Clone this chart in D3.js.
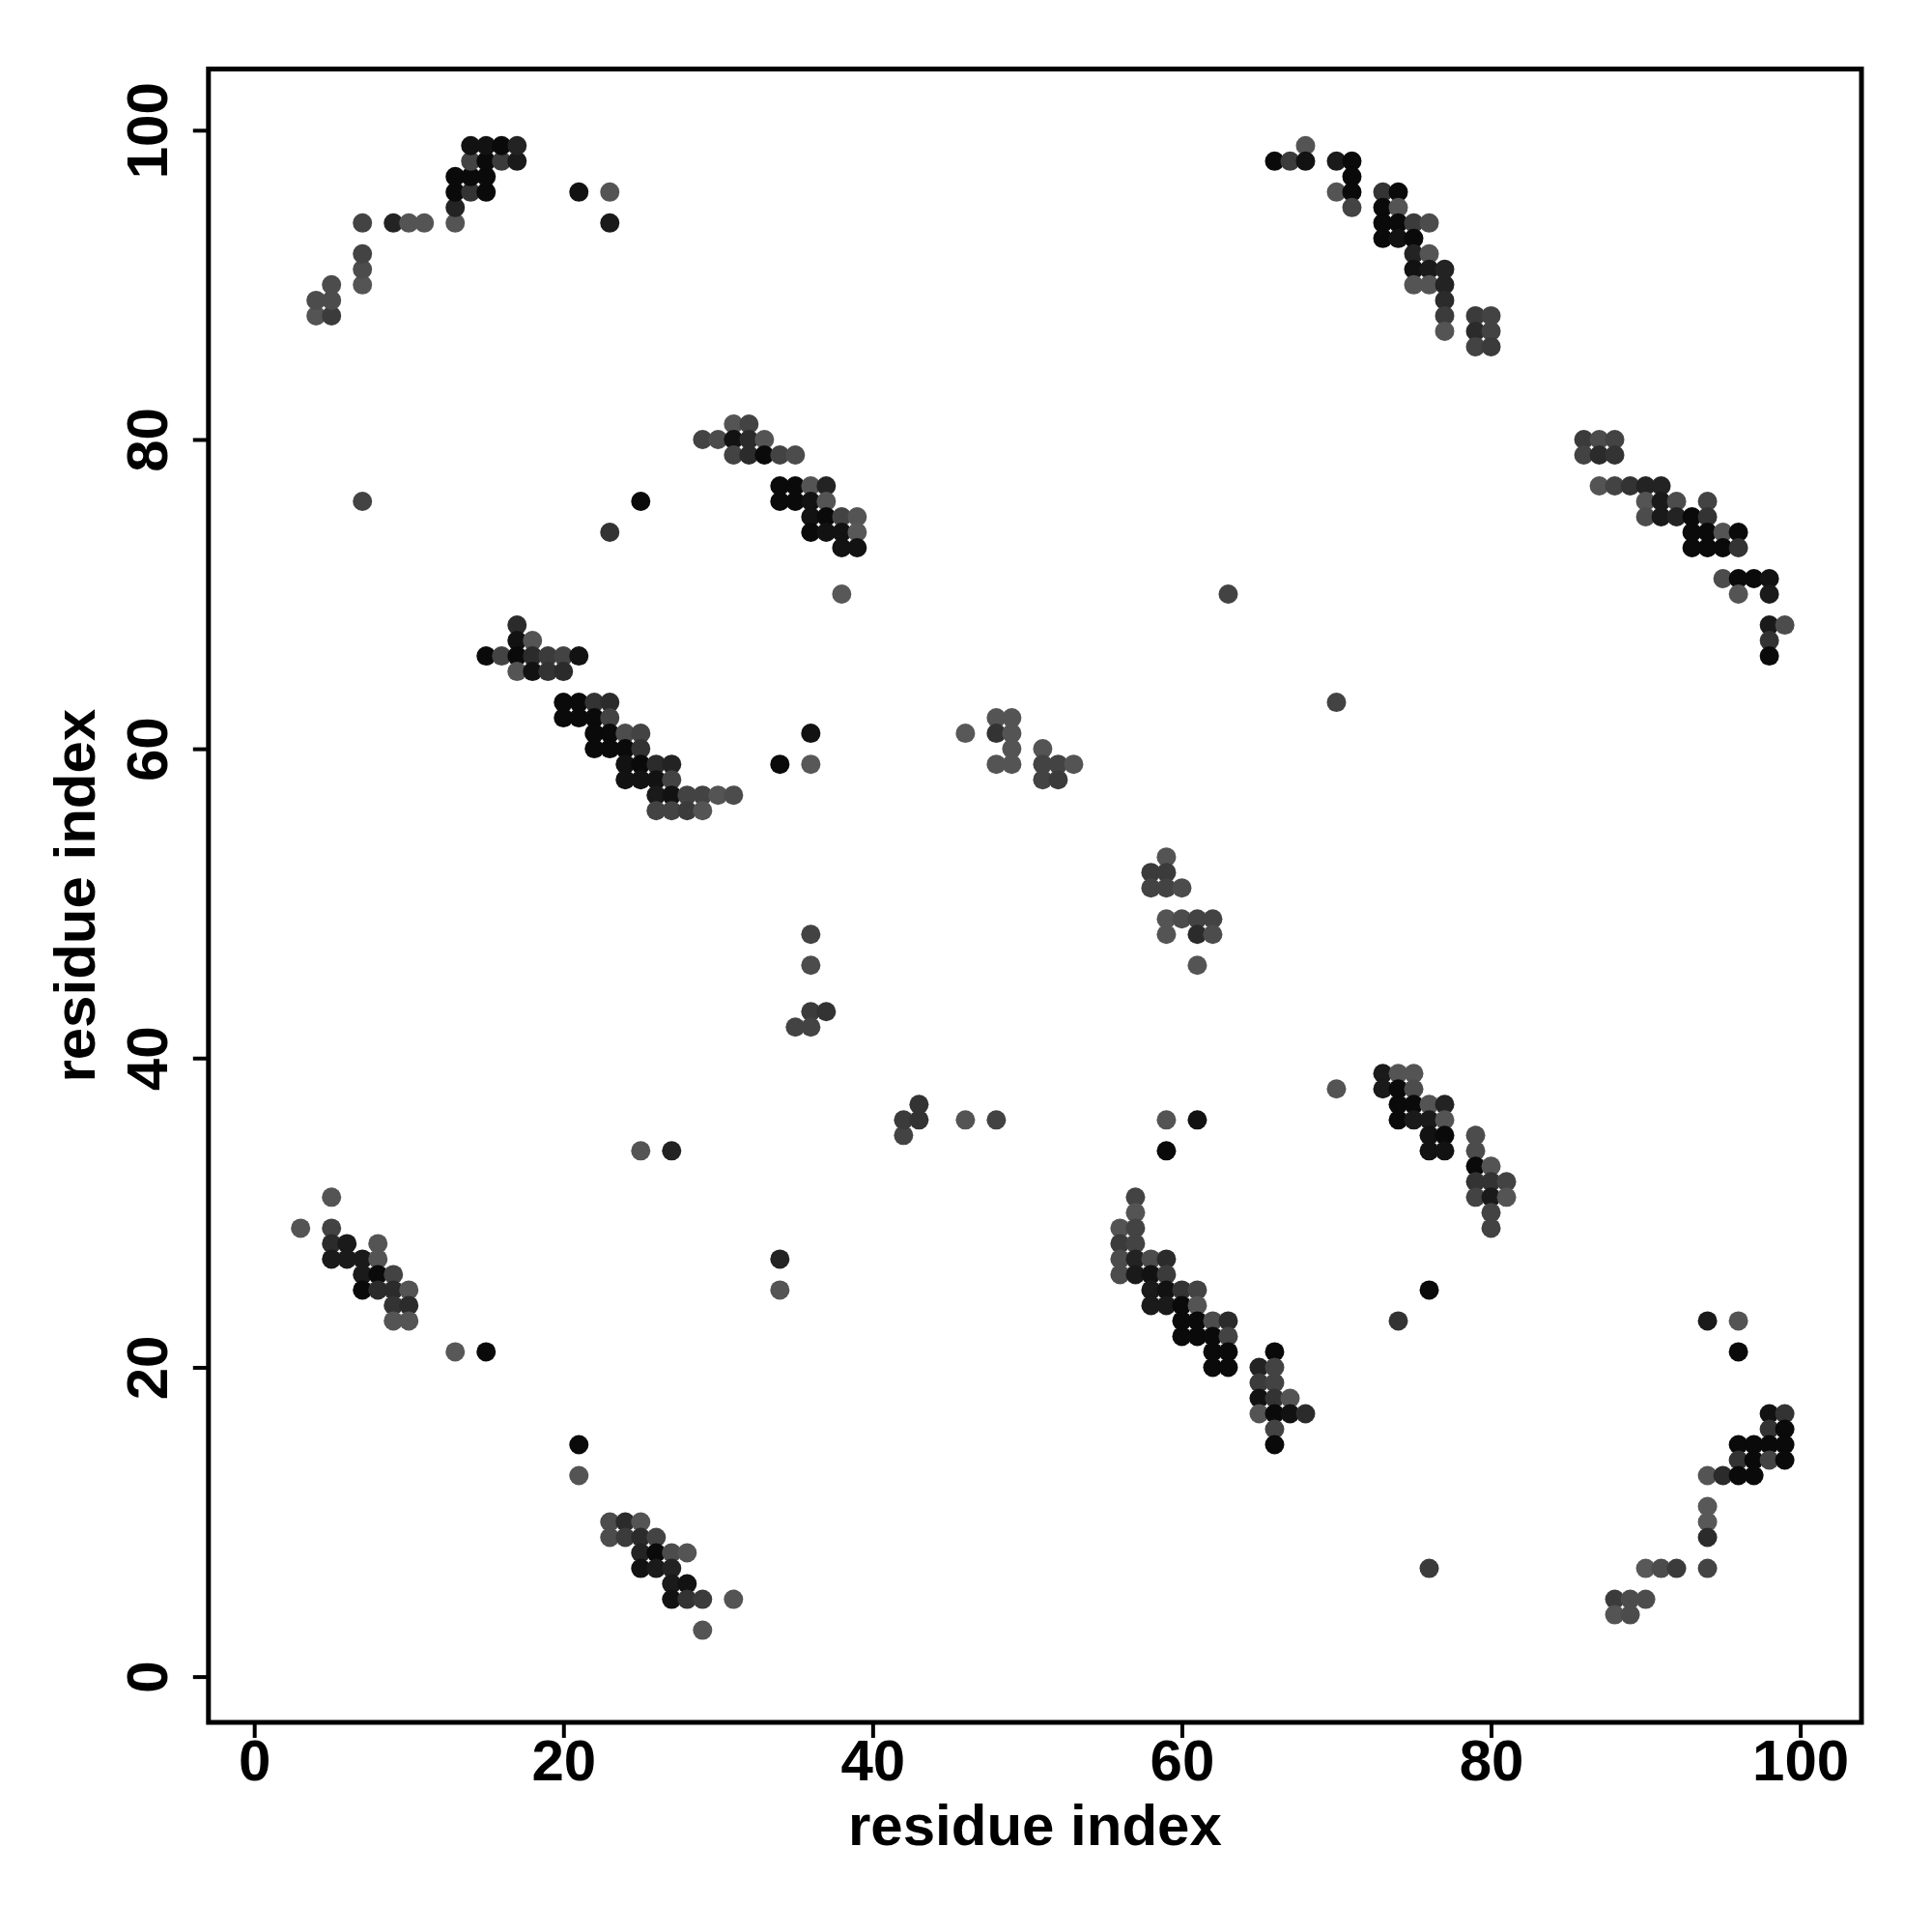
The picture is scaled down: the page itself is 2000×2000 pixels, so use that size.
<!DOCTYPE html>
<html>
<head>
<meta charset="utf-8">
<script src="https://cdn.jsdelivr.net/npm/d3@7"></script>
<style>
  html, body { margin: 0; padding: 0; background: #fff; }
  svg text { font-family: "Liberation Sans", Arial, Helvetica, sans-serif; font-weight: bold; }
</style>
</head>
<body>
<script>
// ---- data: predicted contacts [residue i, residue j, probability] ----
const topLeftBlock = [[4,88,.1],[5,88,.4],[4,89,.2],[5,89,.2],[5,90,.2],[7,90,.1],[7,91,.2],[7,92,.3],[7,94,.3],[9,94,.7],[10,94,.1],[11,94,.1],[13,94,.1],[13,95,.7],[13,96,1],[14,96,.5],[15,96,1],[13,97,1],[14,97,1],[15,97,1],[14,98,.3],[15,98,1],[16,98,.4],[17,98,.8],[14,99,.9],[15,99,.9],[16,99,1],[17,99,.7]];
const isolatedUpper = [[21,96,.9],[23,96,.1],[23,94,.8],[7,76,.3],[23,74,.5],[25,76,1],[38,70,.05],[63,70,.3],[70,63,.3]];
const block30to40 = [[31,81,.1],[32,81,.3],[29,80,.3],[30,80,.2],[31,80,.9],[32,80,.6],[33,80,.1],[31,79,.3],[32,79,.6],[33,79,1],[34,79,.3],[35,79,.2],[34,77,1],[35,77,1],[36,77,.1],[37,77,.7],[34,76,1],[35,76,1],[36,76,.9],[37,76,.1],[36,75,.9],[37,75,1],[38,75,.3],[39,75,.1],[36,74,1],[37,74,.9],[38,74,.9],[39,74,.05],[38,73,.9],[39,73,.9]];
const block15to31 = [[17,68,.6],[17,67,.9],[18,67,.1],[15,66,1],[16,66,.3],[17,66,1],[18,66,.6],[19,66,.4],[20,66,.3],[21,66,.9],[17,65,.1],[18,65,.9],[19,65,.5],[20,65,.6],[20,63,1],[21,63,1],[22,63,.5],[23,63,.6],[20,62,1],[21,62,1],[22,62,1],[23,62,.3],[22,61,1],[23,61,1],[24,61,.2],[25,61,.3],[22,60,1],[23,60,1],[24,60,1],[25,60,.5],[24,59,.9],[25,59,1],[26,59,.6],[27,59,.7],[24,58,.9],[25,58,.9],[26,58,.9],[27,58,.3],[26,57,.8],[27,57,.9],[28,57,.3],[29,57,.3],[30,57,.1],[31,57,.2],[26,56,.3],[27,56,.3],[28,56,.4],[29,56,.1],[36,61,.9],[34,59,1],[36,59,.05]];
const topRightBlock = [[68,99,.1],[66,98,1],[67,98,.4],[68,98,.9],[70,98,.8],[71,98,1],[71,97,1],[70,96,.1],[71,96,1],[73,96,.5],[74,96,1],[71,95,.3],[73,95,1],[74,95,.1],[73,94,1],[74,94,1],[75,94,.4],[76,94,.2],[73,93,1],[74,93,.9],[75,93,1],[75,92,.7],[76,92,.1],[75,91,.9],[76,91,.8],[77,91,.7],[75,90,.1],[76,90,.1],[77,90,.7],[77,89,.6],[77,88,.4],[79,88,.4],[80,88,.3],[77,87,.1],[79,87,.6],[80,87,.3],[79,86,.3],[80,86,.4]];
const rightBlock = [[86,80,.4],[87,80,.2],[88,80,.3],[86,79,.3],[87,79,.6],[88,79,.5],[87,77,.1],[88,77,.3],[89,77,.5],[90,77,.7],[91,77,.7],[90,76,.1],[91,76,.8],[92,76,.2],[94,76,.3],[90,75,.2],[91,75,.8],[92,75,.7],[93,75,1],[94,75,.5],[93,74,1],[94,74,1],[95,74,.1],[96,74,1],[93,73,1],[94,73,1],[95,73,1],[96,73,.5],[95,71,.2],[96,71,1],[97,71,1],[98,71,.9],[96,70,.1],[98,70,.8],[98,68,.8],[99,68,.2],[98,67,.5],[98,66,1]];
const middleBlocks = [[46,61,.05],[48,62,.1],[49,62,.1],[48,61,.5],[49,61,.1],[49,60,.1],[48,59,.1],[49,59,.1],[51,60,.1],[51,59,.3],[52,59,.3],[53,59,.1],[51,58,.3],[52,58,.4],
  [59,53,.1],[58,52,.4],[59,52,.4],[58,51,.3],[59,51,.3],[60,51,.2],[59,49,.1],[60,49,.2],[61,49,.3],[62,49,.3],[59,48,.1],[61,48,.6],[62,48,.2],[61,46,.1],
  [36,48,.3],[36,46,.2],[36,43,.4],[37,43,.5],[35,42,.3],[36,42,.3],
  [42,35,.3],[42,36,.4],[43,36,.5],[43,37,.5],[46,36,.1],[48,36,.3],[25,34,.1],[27,34,.7],[34,27,.7],[34,25,.1],[59,36,.1],[59,34,1],[61,36,.9]];
const bottomLeftBlock = [[5,31,.1],[3,29,.1],[5,29,.3],[5,28,.6],[6,28,.8],[8,28,.1],[5,27,.8],[6,27,.8],[7,27,.8],[8,27,.1],[7,26,.8],[8,26,1],[9,26,.3],[7,25,1],[8,25,.6],[9,25,.6],[10,25,.1],[9,24,.5],[10,24,.6],[9,23,.1],[10,23,.1],[13,21,.05],[15,21,1]];
const block21to31 = [[21,15,1],[21,13,.1],[23,10,.2],[24,10,.6],[25,10,.1],[23,9,.2],[24,9,.4],[25,9,.6],[26,9,.3],[25,8,.7],[26,8,1],[27,8,.2],[28,8,.1],[25,7,.9],[26,7,.8],[27,7,.7],[27,6,.8],[28,6,.9],[27,5,.9],[28,5,.5],[29,5,.4],[31,5,.1],[29,3,.1]];
const block56to68 = [[57,31,.3],[57,30,.1],[56,29,.1],[57,29,.3],[56,28,.4],[57,28,.3],[56,27,.2],[57,27,.7],[58,27,.2],[59,27,.6],[56,26,.2],[57,26,.8],[58,26,.9],[59,26,.4],[58,25,.8],[59,25,.9],[60,25,.5],[61,25,.3],[58,24,.8],[59,24,.8],[60,24,1],[61,24,.1],[60,23,1],[61,23,1],[62,23,.2],[63,23,.6],[60,22,1],[61,22,1],[62,22,1],[63,22,.3],[62,21,1],[63,21,1],[66,21,1],[62,20,1],[63,20,1],[65,20,.7],[66,20,.3],[65,19,.4],[66,19,.3],[65,18,.9],[66,18,.5],[67,18,.1],[65,17,.1],[66,17,1],[67,17,.9],[68,17,.6],[66,16,.3],[66,15,1]];
const block70to81 = [[70,38,.1],[73,39,.8],[74,39,.1],[75,39,.1],[73,38,.8],[74,38,1],[75,38,.2],[74,37,1],[75,37,1],[76,37,.1],[77,37,.7],[74,36,1],[75,36,.8],[76,36,.8],[77,36,.1],[76,35,.9],[77,35,1],[76,34,.9],[77,34,.9],[79,35,.2],[79,34,.2],[79,33,1],[80,33,.1],[79,32,.5],[80,32,.5],[81,32,.3],[79,31,.3],[80,31,.8],[81,31,.1],[80,30,.3],[80,29,.3],[76,25,1],[74,23,.5]];
const bottomRightBlock = [[94,23,.8],[96,23,.1],[96,21,1],[98,17,.9],[99,17,.5],[98,16,.5],[99,16,1],[96,15,1],[97,15,1],[98,15,1],[99,15,1],[96,14,.5],[97,14,1],[98,14,.3],[99,14,1],[94,13,.1],[95,13,.6],[96,13,1],[97,13,1],[94,11,.05],[94,10,.05],[94,9,.6],[90,7,.05],[91,7,.2],[92,7,.4],[94,7,.3],[88,5,.4],[89,5,.2],[90,5,.2],[88,4,.1],[89,4,.2],[76,7,.4]];

const tickValues = [0, 20, 40, 60, 80, 100];
const xLabel = "residue index";
const yLabel = "residue index";

const contacts = [].concat(topLeftBlock, isolatedUpper, block30to40, block15to31, topRightBlock,
  rightBlock, middleBlocks, bottomLeftBlock, block21to31, block56to68, block70to81, bottomRightBlock);

// ---- layout ----
const W = 2000, H = 2000;
const box = { left: 215.8, top: 71.4, right: 1927, bottom: 1783 };
const dom = [-2.96, 103.96];

const svg = d3.select("body").append("svg")
  .attr("width", W).attr("height", H)
  .attr("viewBox", `0 0 ${W} ${H}`);
svg.append("rect").attr("width", W).attr("height", H).attr("fill", "#fff");

const x = d3.scaleLinear().domain(dom).range([box.left, box.right]);
const y = d3.scaleLinear().domain(dom).range([box.bottom, box.top]);
const shade = d3.scaleLinear().domain([0, 1]).range(["#5c5c5c", "#0a0a0a"]);

// points
svg.append("g").selectAll("circle")
  .data(contacts)
  .join("circle")
  .attr("cx", d => x(d[0]))
  .attr("cy", d => y(d[1]))
  .attr("r", 10)
  .attr("fill", d => shade(d[2]));

// axes
const fontSize = 60;
const xAxis = d3.axisBottom(x).tickValues(tickValues).tickSize(16).tickFormat(d3.format("d"));
const gx = svg.append("g").attr("transform", `translate(0,${box.bottom})`).call(xAxis);
gx.select(".domain").remove();
gx.selectAll("line").attr("stroke", "#000").attr("stroke-width", 4);
gx.selectAll("text").attr("font-size", fontSize).attr("fill", "#000")
  .attr("dy", null).attr("y", 60);

const yAxis = d3.axisLeft(y).tickValues(tickValues).tickSize(16).tickFormat(d3.format("d"));
const gy = svg.append("g").attr("transform", `translate(${box.left},0)`).call(yAxis);
gy.select(".domain").remove();
gy.selectAll("line").attr("stroke", "#000").attr("stroke-width", 4);
gy.selectAll("text").attr("font-size", fontSize).attr("fill", "#000")
  .attr("x", null).attr("dy", null)
  .attr("text-anchor", "middle")
  .attr("transform", "translate(-43,0) rotate(-90)");

// frame
svg.append("rect")
  .attr("x", box.left).attr("y", box.top)
  .attr("width", box.right - box.left).attr("height", box.bottom - box.top)
  .attr("fill", "none").attr("stroke", "#000").attr("stroke-width", 5);

// axis titles
svg.append("text")
  .attr("x", (box.left + box.right) / 2).attr("y", 1910)
  .attr("text-anchor", "middle").attr("font-size", fontSize)
  .text(xLabel);
svg.append("text")
  .attr("transform", `translate(98,${(box.top + box.bottom) / 2}) rotate(-90)`)
  .attr("text-anchor", "middle").attr("font-size", fontSize)
  .text(yLabel);
</script>
</body>
</html>
